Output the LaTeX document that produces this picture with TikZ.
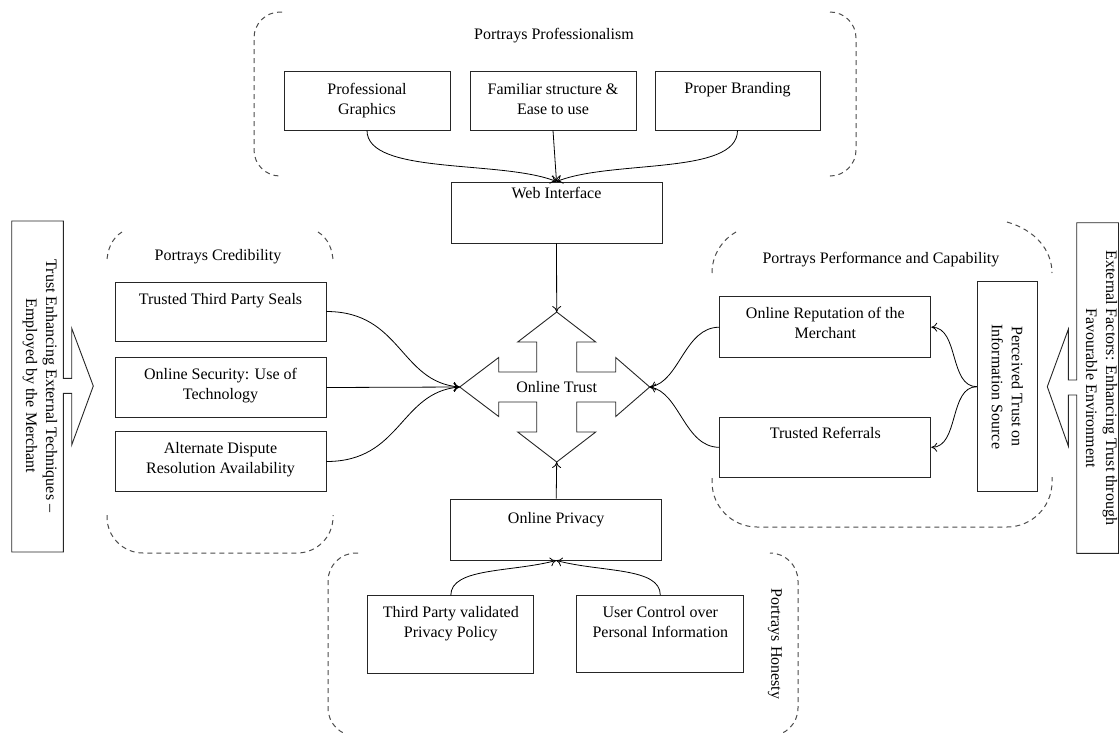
\documentclass[tikz,border=0pt]{standalone}
\usepackage{fontspec}
\setmainfont{Liberation Serif}
\usetikzlibrary{arrows.meta}

% box text: [top pad]{width}{height}{text}
\newcommand{\boxtext}[4][22pt]{\parbox[c][#3][t]{#2}{\centering\rule{0pt}{#1}#4\par}}

\begin{document}
\begin{tikzpicture}[x=1pt,y=-1pt,
    font=\fontsize{16}{20}\selectfont,
    box/.style={draw=black!85, line width=0.9pt, inner sep=0pt},
    group/.style={draw=black!70, line width=1pt, dash pattern=on 5pt off 4pt},
    arr/.style={-{To[length=6pt,width=9pt]}, line width=0.8pt},
    outline/.style={draw=black!85, line width=0.9pt, line join=miter}]

\useasboundingbox (0,0) rectangle (1119,732);

%Dashed groups
\draw [group, rounded corners=26] (282,12) -- (254,12) -- (254,176) -- (280,176);
\draw [group, rounded corners=26] (830,12) -- (856,12) -- (856,176) -- (832,176);
\draw [group] (122,232) .. controls (112,238) and (107,250) .. (107,262);
\draw [group] (318,232) .. controls (328,238) and (333,250) .. (333,262);
\draw [group, rounded corners=36] (107,515) -- (107,553) -- (333,553) -- (333,515);
\draw [group] (736,232) .. controls (722,240) and (712,255) .. (712,273);
\draw [group] (1007,222) .. controls (1035,230) and (1052,250) .. (1052,273);
\draw [group, rounded corners=45] (712,478) -- (712,527) -- (1052,527) -- (1052,477);
\draw [group, rounded corners=28] (358,553) -- (328,553) -- (328,736) -- (358,736);
\draw [group, rounded corners=28] (772,553) -- (798,553) -- (798,736) -- (772,736);

% Text Node
\node (lprof) at (554,36) {Portrays Professionalism};
\node (lcred) at (218,257) {Portrays Credibility};
\node (lperf) at (881,260) {Portrays Performance and Capability};
\node [rotate=-90] (lhon) at (775,644) {Portrays Honesty};

%Top boxes
\node [box] (pg) at (367,100.5) {\boxtext[23pt]{166pt}{59pt}{Professional\\Graphics}};
\node [box] (fs) at (553,100.5) {\boxtext[23pt]{166pt}{59pt}{Familiar structure \&\\Ease to use}};
\node [box] (pb) at (737.5,100.5) {\boxtext{165pt}{59pt}{Proper Branding}};
\node [box] (web) at (556.5,212.5) {\boxtext[16pt]{211pt}{61pt}{Web Interface}};

%Left boxes
\node [box] (tps) at (220.5,311.5) {\boxtext{211pt}{59pt}{Trusted Third Party Seals}};
\node [box] (os) at (220.5,387.5) {\boxtext{211pt}{60pt}{Online Security: Use of\\Technology}};
\node [box] (ad) at (220.5,461.5) {\boxtext{211pt}{60pt}{Alternate Dispute\\Resolution Availability}};

%Right boxes
\node [box] (rep) at (825.3,327.2) {\boxtext[21.5pt]{211pt}{61pt}{Online Reputation of the\\Merchant}};
\node [box] (ref) at (825.3,447.3) {\boxtext[21.5pt]{211pt}{60pt}{Trusted Referrals}};
\node [box, rotate=-90, minimum width=210, minimum height=60, align=center] (pts) at (1007.3,386.7) {Perceived Trust on\\Information Source};

%Bottom boxes
\node [box] (op) at (556.2,529.5) {\boxtext[24pt]{211pt}{61pt}{Online Privacy}};
\node [box] (tpv) at (450.8,634.8) {\boxtext{166pt}{78pt}{Third Party validated\\Privacy Policy}};
\node [box] (uc) at (660.3,634) {\boxtext{167pt}{77pt}{User Control over\\Personal Information}};

%Shape: four way arrow
\node (ot) at (556.7,387) {Online Trust};
\begin{scope}[shift={(556.7,387)}]
  \draw [outline] (0,-75) -- (39,-45) -- (20,-45) -- (20,-15) -- (59,-15) -- (59,-29.5) -- (93,0)
    -- (59,29.5) -- (59,15) -- (20,15) -- (20,45) -- (39,45) -- (0,75) -- (-39,45) -- (-20,45)
    -- (-20,15) -- (-58,15) -- (-58,29.5) -- (-97,0) -- (-58,-29.5) -- (-58,-15) -- (-20,-15)
    -- (-20,-45) -- (-39,-45) -- cycle;
  \coordinate (ttop) at (0,-75);
  \coordinate (tbot) at (0,75);
  \coordinate (tleft) at (-97,0);
  \coordinate (tright) at (93,0);
\end{scope}

%External factors, left
\draw [outline] (11.7,221) -- (63.3,221) -- (63.3,378.3) -- (71.7,378.3) -- (71.7,328.3) -- (93.3,386)
  -- (71.7,445) -- (71.7,393.3) -- (63.3,393.3) -- (63.3,552) -- (11.7,552) -- cycle;
\node [rotate=-90, align=center] (extl) at (40,386) {Trust Enhancing External Techniques --\\Employed by the Merchant};

%External factors, right
\draw [outline] (1118.5,222.7) -- (1076.7,222.7) -- (1076.7,380) -- (1068.3,380) -- (1068.3,329.3) -- (1047.3,386.7)
  -- (1068.3,446) -- (1068.3,395) -- (1076.7,395) -- (1076.7,553.3) -- (1118.5,553.3) -- cycle;
\node [rotate=-90, align=center] (extr) at (1101.5,388) {External Factors: Enhancing Trust through\\Favourable Environment};

%Connectors
\draw [arr] (pg.south) .. controls +(0,45) and +(-55,-22) .. (web.north);
\draw [arr] (fs.south) -- (web.north);
\draw [arr] (pb.south) .. controls +(0,45) and +(55,-22) .. (web.north);
\draw [arr] (web.south) -- (ttop);

\draw [arr] (tps.east) .. controls +(75,0) and +(-60,-5) .. (tleft);
\draw [arr] (os.east) -- (tleft);
\draw [arr] (ad.east) .. controls +(75,0) and +(-60,5) .. (tleft);

\draw [arr] (rep.west) .. controls +(-35,0) and +(30,-5) .. (tright);
\draw [arr] (ref.west) .. controls +(-35,0) and +(30,5) .. (tright);
\draw [arr] (pts.south) .. controls +(-28,0) and +(28,0) .. (rep.east);
\draw [arr] (pts.south) .. controls +(-28,0) and +(28,0) .. (ref.east);

\draw [arr] (op.north) -- (tbot);
\draw [arr] (tpv.north) .. controls +(0,-28) and +(-45,12) .. (op.south);
\draw [arr] (uc.north) .. controls +(0,-28) and +(45,12) .. (op.south);

\end{tikzpicture}
\end{document}
